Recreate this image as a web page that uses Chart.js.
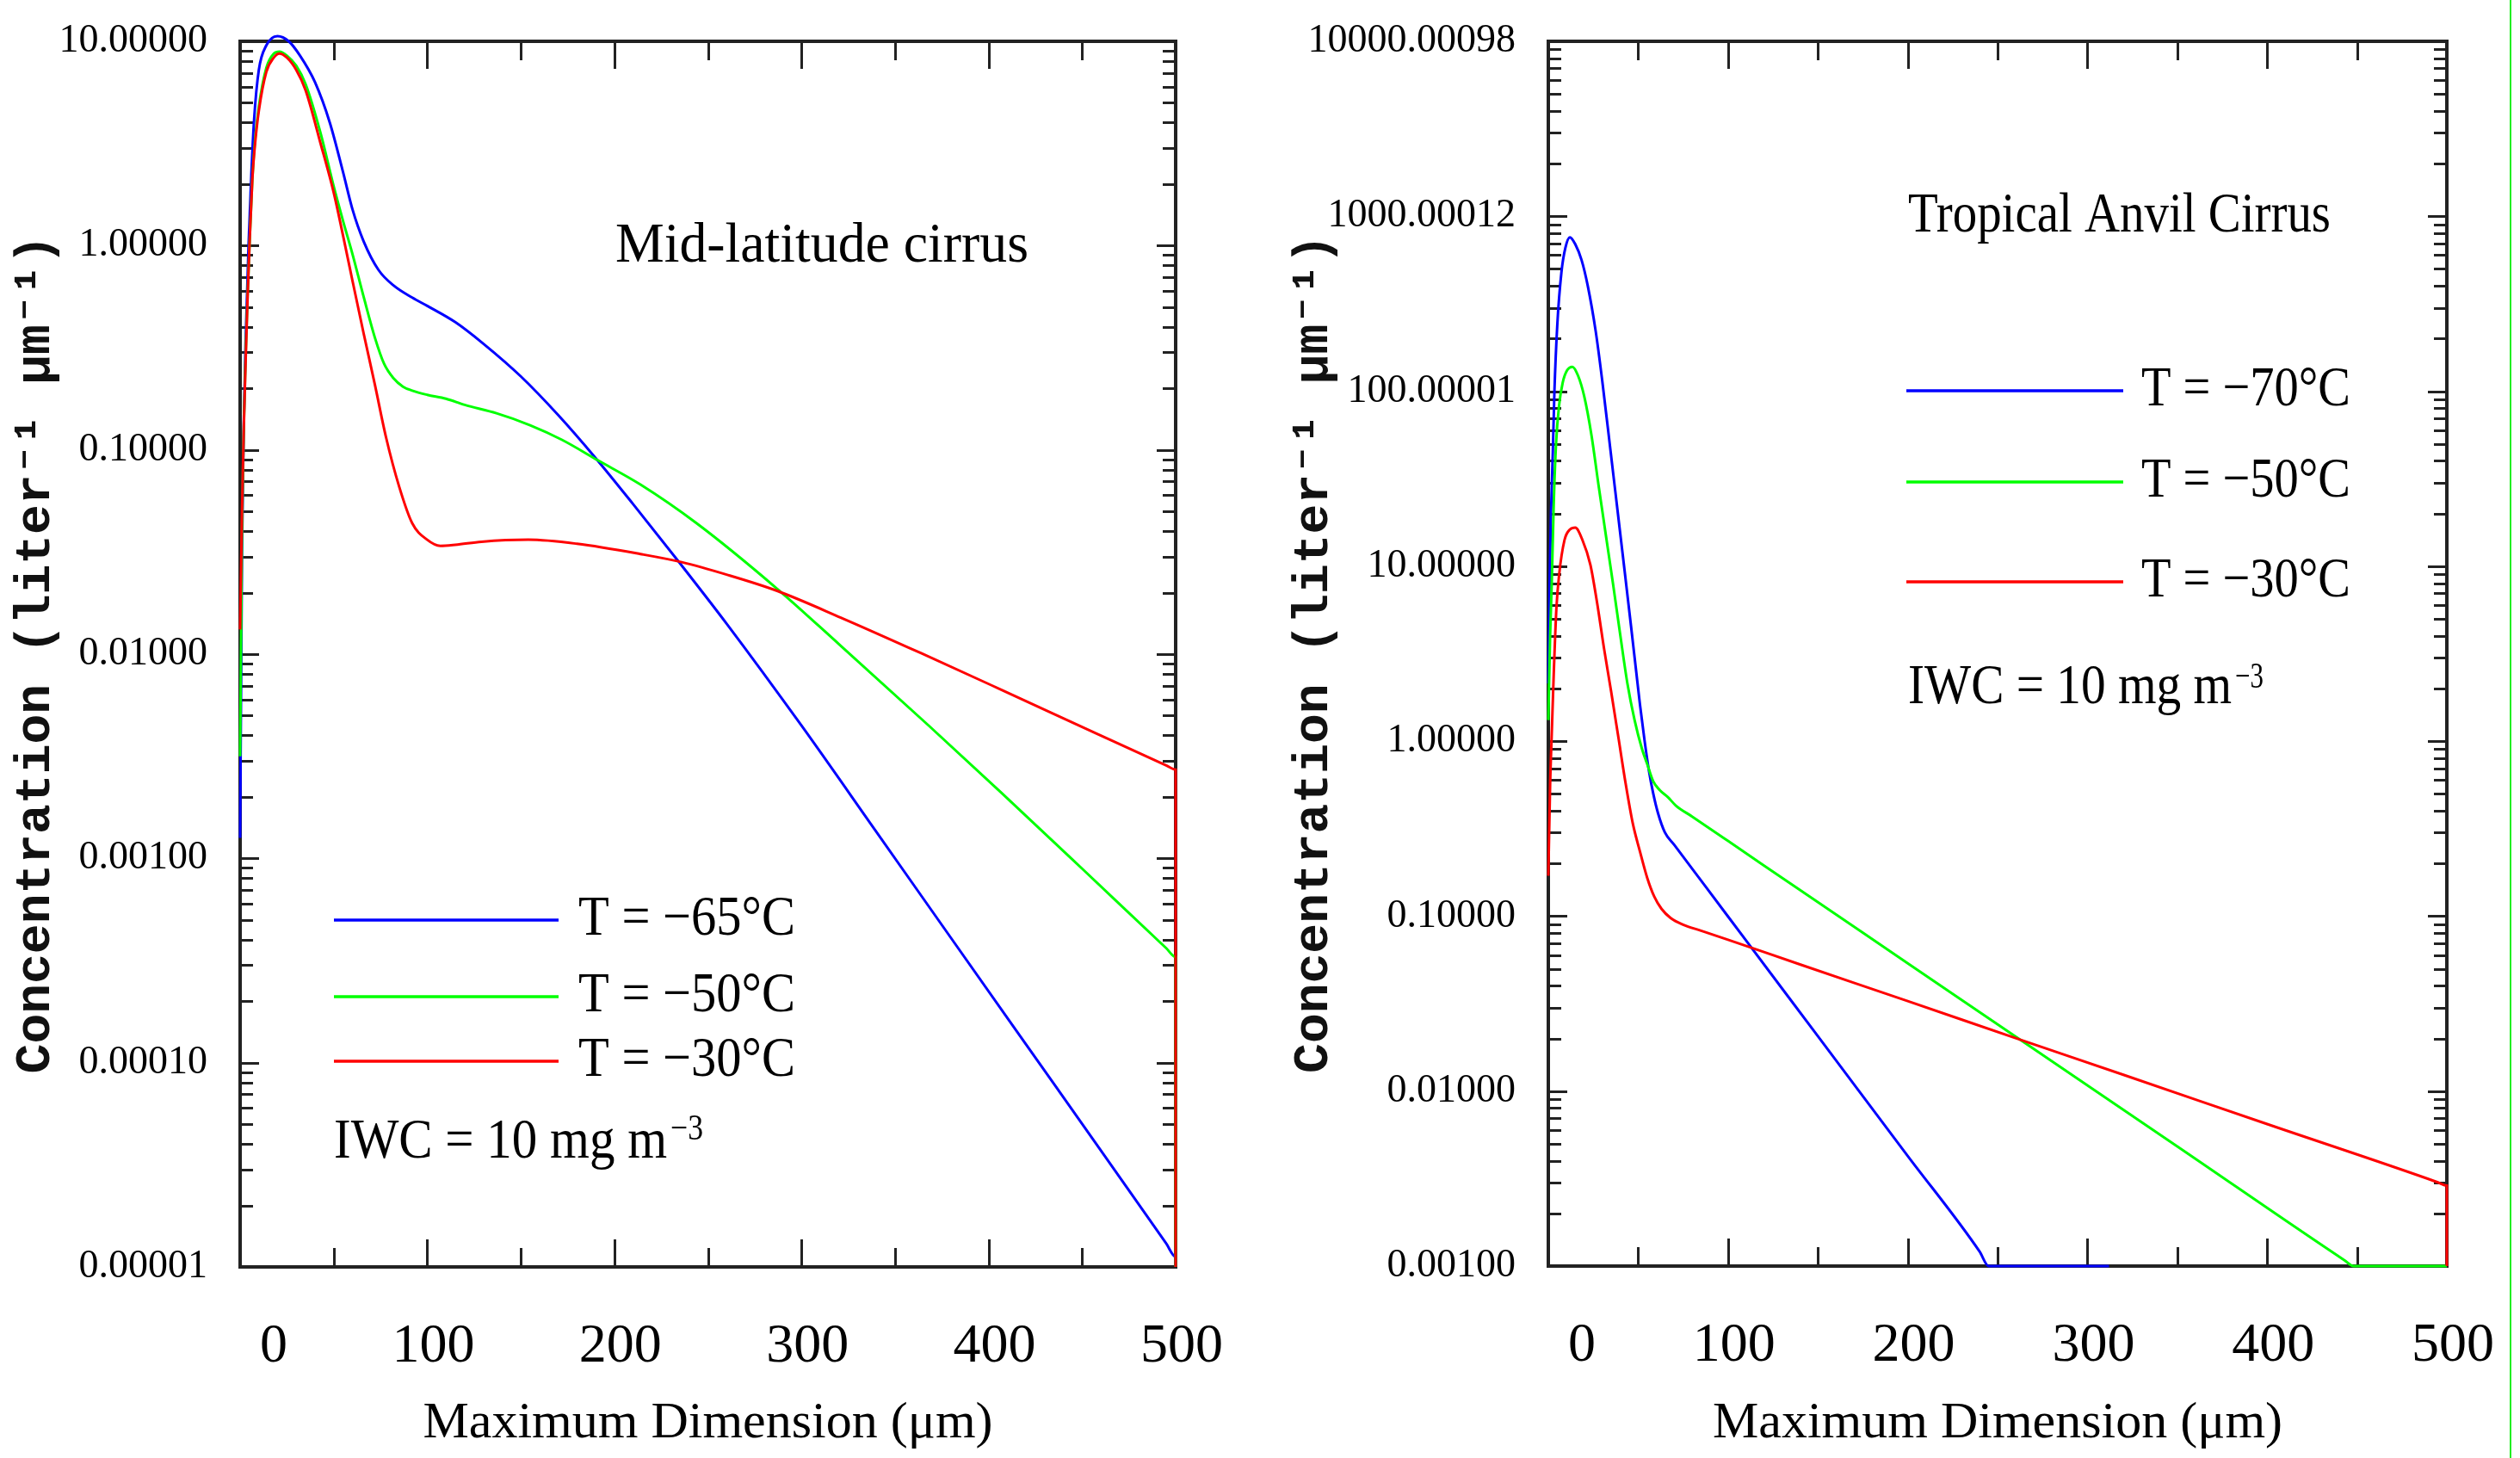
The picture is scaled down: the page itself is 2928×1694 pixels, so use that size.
<!DOCTYPE html>
<html>
<head>
<meta charset="utf-8">
<title>Ice particle size distributions</title>
<script src="https://cdn.jsdelivr.net/npm/chart.js@4.4.1/dist/chart.umd.min.js"></script>
<style>
    html, body { margin: 0; padding: 0; background: #fff; }
    body { width: 2928px; height: 1694px; position: relative; overflow: hidden; }
    canvas { position: absolute; top: 0; }
    #midChart { left: 0; }
    #tropChart { left: 1460px; }
    #edge { position: absolute; left: 2916px; top: 0; width: 2px; height: 1694px; background: #22ee22; }
</style>
</head>
<body>
<canvas id="midChart" width="1460" height="1694"></canvas>
<canvas id="tropChart" width="1468" height="1694"></canvas>
<div id="edge"></div>
<script>
// Axis ticks and labels
const xTickValues = [0, 100, 200, 300, 400, 500];
const xTickLabels = ['0', '100', '200', '300', '400', '500'];
const midYTicks = [1e-5, 1e-4, 1e-3, 1e-2, 1e-1, 1, 10];
const midYLabels = ['0.00001', '0.00010', '0.00100', '0.01000', '0.10000', '1.00000', '10.00000'];
const tropYTicks = [1e-3, 1e-2, 1e-1, 1, 10, 100, 1000, 1e4];
const tropYLabels = ['0.00100', '0.01000', '0.10000', '1.00000', '10.00000', '100.00001', '1000.00012', '10000.00098'];

// Series names and colours
const midLabels = ['T = −65°C', 'T = −50°C', 'T = −30°C'];
const tropLabels = ['T = −70°C', 'T = −50°C', 'T = −30°C'];
const lineColors = ['#0000ff', '#00ff00', '#ff0000'];

// Mid-latitude cirrus: maximum dimension (um) and concentration (per liter per um)
const midSizeBlue = [0, 1, 2, 3, 4.5, 6, 7.5, 10, 14, 20, 26, 32, 40, 48, 55, 60, 66, 74, 82, 92,
    100, 115, 130, 150, 170, 190, 210, 235, 260, 300, 340, 380, 420, 460, 495, 500, 500];
const midConcBlue = [1.26e-3, 3.16e-2, 0.141, 0.355, 1.0, 2.24, 4.17, 7.24, 9.55, 10.6, 10.0, 8.51, 6.31, 3.98, 2.29, 1.51, 1.05, 0.759, 0.638, 0.556,
    0.507, 0.422, 0.331, 0.229, 0.148, 9.12e-2, 5.43e-2, 2.79e-2, 1.41e-2, 4.47e-3, 1.35e-3, 4.07e-4, 1.23e-4, 3.72e-5, 1.30e-5, 1.12e-5, 1e-5];

const midSizeGreen = [0, 1, 2, 3, 4, 5, 6.5, 8, 10, 14, 18, 21, 25, 30, 35, 43, 50, 55, 60, 66,
    72, 77, 82, 87, 92, 100, 110, 120, 137, 155, 172, 191, 214, 244, 287, 320, 368, 407, 450, 495, 500, 500];
const midConcGreen = [3.16e-3, 3.98e-2, 0.135, 0.302, 0.575, 1.0, 2.09, 3.31, 4.79, 7.41, 8.71, 8.91, 8.51, 7.59, 6.17, 3.55, 1.95, 1.32, 0.912, 0.562,
    0.355, 0.263, 0.224, 0.204, 0.195, 0.186, 0.178, 0.166, 0.151, 0.132, 0.112, 8.91e-2, 6.76e-2, 4.37e-2, 2.09e-2, 1.12e-2, 4.47e-3, 2.09e-3, 8.91e-4, 3.63e-4, 3.29e-4, 1e-5];

const midSizeRed = [0, 1, 2, 3, 4, 5, 6.5, 8, 10, 14, 18, 21, 25, 30, 35, 43, 50, 55, 60, 66,
    72, 78, 85, 92, 100, 107, 115, 129, 154, 180, 214, 236, 260, 287, 321, 364, 407, 458, 495, 500, 500];
const midConcRed = [1.32e-2, 5.01e-2, 0.132, 0.282, 0.562, 1.0, 2.09, 3.16, 4.57, 7.08, 8.32, 8.71, 8.32, 7.24, 5.75, 3.16, 1.82, 1.12, 0.676, 0.372,
    0.209, 0.115, 6.61e-2, 4.37e-2, 3.63e-2, 3.39e-2, 3.43e-2, 3.55e-2, 3.63e-2, 3.47e-2, 3.09e-2, 2.82e-2, 2.45e-2, 2.04e-2, 1.51e-2, 1.01e-2, 6.68e-3, 4.07e-3, 2.85e-3, 2.72e-3, 1e-5];

// Tropical anvil cirrus
const tropSizeBlue = [0, 0.7, 1.5, 2.5, 3.4, 5, 7.3, 9.5, 12, 15, 18.5, 22, 26.4, 30, 34.5, 38.5, 42.5, 46, 49, 51,
    53.6, 56, 58.4, 61, 64.8, 70, 87, 110, 150, 200, 240, 245, 312];
const tropConcBlue = [2.14, 7.94, 20.0, 44.7, 100, 240, 479, 661, 759, 692, 562, 398, 219, 115, 46.8, 20.9, 9.33, 4.57, 2.45, 1.62,
    1.0, 0.676, 0.501, 0.389, 0.302, 0.256, 0.15, 7.26e-2, 2.06e-2, 4.26e-3, 1.21e-3, 1e-3, 1e-3];

const tropSizeGreen = [0, 1, 1.9, 3, 4.3, 6, 8, 10.5, 13.4, 16.5, 20, 24, 28, 32, 36, 40, 44, 48, 52, 55,
    58.4, 62, 66.5, 71, 80, 100, 140, 200, 267, 350, 443, 448, 500];
const tropConcGreen = [1.32, 3.98, 7.94, 22.4, 50.1, 83.2, 112, 132, 138, 123, 93.3, 56.2, 28.8, 15.1, 7.94, 4.07, 2.14, 1.32, 0.912, 0.741,
    0.589, 0.525, 0.479, 0.428, 0.371, 0.269, 0.141, 5.38e-2, 1.83e-2, 4.83e-3, 1.08e-3, 1e-3, 1e-3];

const tropSizeRed = [0, 1, 2, 3, 4.5, 6, 9, 12, 15, 19, 23.4, 27, 31, 35, 39, 43, 47, 51, 55, 59,
    63, 68, 75, 85, 100, 140, 200, 260, 320, 400, 495, 500, 500];
const tropConcRed = [0.17, 0.562, 1.17, 2.4, 5.75, 8.91, 14.1, 16.2, 16.6, 14.1, 10.2, 6.31, 3.39, 1.91, 1.05, 0.575, 0.339, 0.234, 0.166, 0.129,
    0.11, 9.77e-2, 8.94e-2, 8.26e-2, 7.33e-2, 5.3e-2, 3.27e-2, 2.01e-2, 1.24e-2, 6.48e-3, 3.01e-3, 2.88e-3, 1e-3];

const xTitle = 'Maximum Dimension (μm)';
const yTitle = 'Concentration (liter⁻¹ μm⁻¹)';
const iwcText = 'IWC = 10 mg m';
const iwcExp = '−3';

const serif = "'Liberation Serif', 'Times New Roman', serif";

// Draw text squeezed to a given width (the original uses a condensed face)
function fitText(ctx, text, x, y, w, size) {
    ctx.font = size + 'px ' + serif;
    const m = ctx.measureText(text).width;
    ctx.save();
    ctx.translate(x, y);
    ctx.scale(w / m, 1);
    ctx.textAlign = 'left';
    ctx.textBaseline = 'middle';
    ctx.fillText(text, 0, 0);
    ctx.restore();
}

// Frame box with inward ticks on all four sides
const frameTicks = {
    id: 'frameTicks',
    beforeDatasetsDraw(chart) {
        const {ctx, chartArea: a, scales: {x, y}} = chart;
        ctx.save();
        ctx.strokeStyle = '#222';
        ctx.lineWidth = 3;
        ctx.beginPath();
        const e0 = Math.floor(Math.log10(y.min) + 1e-9);
        const e1 = Math.floor(Math.log10(y.max) + 1e-9);
        for (let e = e0; e <= e1; e++) {
            for (let m = 1; m <= 9; m++) {
                const v = m * Math.pow(10, e);
                if (v > y.max * 1.0001) break;
                const py = Math.round(y.getPixelForValue(v)) + 0.5;
                const len = m === 1 ? 22 : 15;
                ctx.moveTo(a.left, py); ctx.lineTo(a.left + len, py);
                ctx.moveTo(a.right, py); ctx.lineTo(a.right - len, py);
            }
        }
        for (let v = x.min; v <= x.max; v += 50) {
            const px = Math.round(x.getPixelForValue(v)) + 0.5;
            const len = v % 100 === 0 ? 32 : 22;
            ctx.moveTo(px, a.bottom); ctx.lineTo(px, a.bottom - len);
            ctx.moveTo(px, a.top); ctx.lineTo(px, a.top + len);
        }
        ctx.stroke();
        ctx.lineWidth = 4;
        ctx.strokeRect(a.left, a.top, a.right - a.left, a.bottom - a.top);
        ctx.restore();
    }
};

// Legend, panel title and IWC note
function notesPlugin(n) {
    return {
        id: 'notes',
        afterDraw(chart) {
            const ctx = chart.ctx;
            ctx.save();
            ctx.fillStyle = '#000';
            fitText(ctx, n.title, n.titleX, n.titleY, n.titleW, 66);
            chart.data.datasets.forEach((ds, i) => {
                const y = n.rowY[i];
                ctx.strokeStyle = ds.borderColor;
                ctx.lineWidth = 3.5;
                ctx.beginPath();
                ctx.moveTo(n.lineX0, y);
                ctx.lineTo(n.lineX1, y);
                ctx.stroke();
                fitText(ctx, ds.label, n.textX, y, n.textW, 66);
            });
            fitText(ctx, iwcText, n.iwcX, n.iwcY, n.iwcW, 66);
            fitText(ctx, iwcExp, n.supX, n.supY, n.supW, 42);
            ctx.restore();
        }
    };
}

function buildDatasets(sizes, concs, labels) {
    return sizes.map((s, i) => ({
        label: labels[i],
        data: s.map((d, k) => ({x: d, y: concs[i][k]})),
        borderColor: lineColors[i],
        borderWidth: 3,
        pointRadius: 0,
        fill: false,
        clip: false,
        cubicInterpolationMode: 'monotone',
        order: 3 - i
    }));
}

function makeChart(id, setup) {
    return new Chart(document.getElementById(id), {
        type: 'line',
        data: {
            datasets: buildDatasets(setup.sizes, setup.concs, setup.labels)
        },
        options: {
            responsive: false,
            animation: false,
            devicePixelRatio: 1,
            layout: { padding: { top: 48, right: setup.padRight, bottom: 0, left: 0 } },
            plugins: {
                legend: { display: false },
                tooltip: { enabled: false }
            },
            scales: {
                x: {
                    type: 'linear',
                    min: 0,
                    max: 500,
                    afterBuildTicks: s => { s.ticks = xTickValues.map(v => ({value: v})); },
                    afterFit: s => {
                        s.height = setup.xHeight;
                        s.paddingLeft = 0;
                        s.paddingRight = 0;
                    },
                    grid: { display: false, drawTicks: false },
                    border: { display: false },
                    ticks: {
                        callback: (v, i) => xTickLabels[i],
                        align: 'end',
                        labelOffset: 55,
                        padding: 55,
                        autoSkip: false,
                        maxRotation: 0,
                        color: '#000',
                        font: { family: serif, size: 64 }
                    },
                    title: {
                        display: true,
                        text: xTitle,
                        color: '#000',
                        font: { family: serif, size: 60 },
                        padding: { top: 0, bottom: 4 }
                    }
                },
                y: {
                    type: 'logarithmic',
                    min: setup.yTicks[0],
                    max: setup.yTicks[setup.yTicks.length - 1],
                    afterBuildTicks: s => { s.ticks = setup.yTicks.map(v => ({value: v})); },
                    afterFit: s => {
                        s.width = setup.yWidth;
                        s.paddingTop = 0;
                        s.paddingBottom = 0;
                    },
                    grid: { display: false, drawTicks: false },
                    border: { display: false },
                    ticks: {
                        callback: (v, i) => setup.yLabels[i],
                        padding: 38,
                        autoSkip: false,
                        color: '#000',
                        font: { family: serif, size: 46 }
                    },
                    title: {
                        display: true,
                        text: yTitle,
                        color: '#111',
                        font: { family: "'Liberation Mono', 'DejaVu Sans Mono', monospace", size: 58, weight: 'bold' },
                        padding: { top: setup.yTitlePad, bottom: 0 }
                    }
                }
            }
        },
        plugins: [frameTicks, notesPlugin(setup.notes)]
    });
}

makeChart('midChart', {
    sizes: [midSizeBlue, midSizeGreen, midSizeRed],
    concs: [midConcBlue, midConcGreen, midConcRed],
    labels: midLabels,
    yTicks: midYTicks,
    yLabels: midYLabels,
    yWidth: 279,
    xHeight: 222,
    padRight: 94,
    yTitlePad: 8,
    notes: {
        title: 'Mid-latitude cirrus', titleX: 715, titleY: 287, titleW: 480,
        lineX0: 388, lineX1: 649, textX: 672, textW: 252, rowY: [1069, 1158, 1233],
        iwcX: 388, iwcY: 1328, iwcW: 387, supX: 779, supY: 1313, supW: 38
    }
});

makeChart('tropChart', {
    sizes: [tropSizeBlue, tropSizeGreen, tropSizeRed],
    concs: [tropConcBlue, tropConcGreen, tropConcRed],
    labels: tropLabels,
    yTicks: tropYTicks,
    yLabels: tropYLabels,
    yWidth: 339,
    xHeight: 223,
    padRight: 85,
    yTitlePad: 33,
    notes: {
        title: 'Tropical Anvil Cirrus', titleX: 757, titleY: 252, titleW: 491,
        lineX0: 755, lineX1: 1007, textX: 1028, textW: 243, rowY: [454, 560, 676],
        iwcX: 757, iwcY: 800, iwcW: 376, supX: 1137, supY: 788, supW: 33
    }
});
</script>
</body>
</html>
